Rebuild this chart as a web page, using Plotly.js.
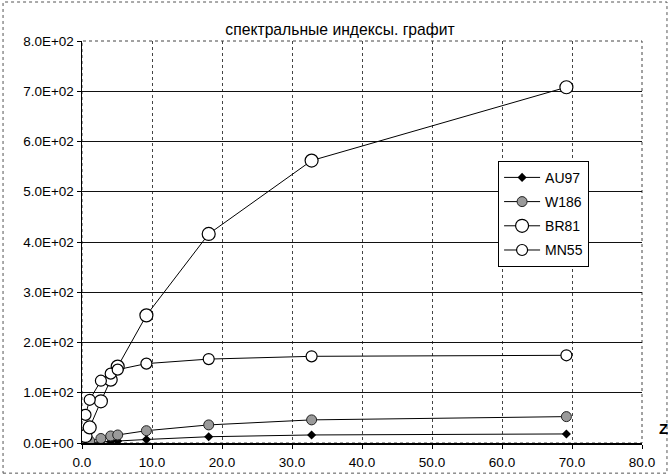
<!DOCTYPE html>
<html><head><meta charset="utf-8">
<script src="https://cdn.plot.ly/plotly-3.0.1.min.js"></script>
<style>html,body{margin:0;padding:0;background:#fff}#chart{width:668px;height:476px}</style>
</head><body><div id="chart"></div>
<script>
const zValues = [0.5, 1.1, 2.7, 4.1, 5.1, 9.2, 18.1, 32.8, 69.2];
const au97 = [0.5, 1, 2, 3, 4, 7, 12.5, 16, 18];
const w186 = [1.5, 4, 9, 14, 16, 24.5, 36, 46, 52.5];
const br81 = [14, 31, 83, 126, 152, 254, 416, 562, 708];
const mn55 = [56, 86, 124, 138, 146, 158, 167, 172.5, 174.5];
const yTickVals = [0, 100, 200, 300, 400, 500, 600, 700, 800];
const yTickText = ['0.0E+00','1.0E+02','2.0E+02','3.0E+02','4.0E+02','5.0E+02','6.0E+02','7.0E+02','8.0E+02'];
const titleText = 'спектральные индексы. графит';

const F = 'Arial, "Liberation Sans", sans-serif';
const traces = [
  {x: zValues, y: au97, name: 'AU97', legendgroup: 'a', mode: 'lines+markers',
   line: {color: '#000', width: 1},
   marker: {symbol: 'diamond', size: 7, color: '#000'}},
  {x: zValues, y: w186, name: 'W186', legendgroup: 'b', mode: 'lines+markers',
   line: {color: '#000', width: 1},
   marker: {symbol: 'circle', size: 10, color: '#9a9a9a', line: {color: '#222', width: 1}}},
  {x: zValues, y: br81, name: 'BR81', legendgroup: 'c', mode: 'lines+markers',
   line: {color: '#000', width: 1},
   marker: {symbol: 'circle', size: 13, color: '#fff', line: {color: '#000', width: 1.2}}},
  {x: zValues, y: mn55, name: 'MN55', legendgroup: 'd', mode: 'lines+markers',
   line: {color: '#000', width: 1},
   marker: {symbol: 'circle', size: 11, color: '#fff', line: {color: '#000', width: 1.2}}}
];

const layout = {
  width: 668, height: 476,
  margin: {l: 82, r: 26, t: 41, b: 33},
  paper_bgcolor: '#fff', plot_bgcolor: '#fff',
  font: {family: F, size: 13, color: '#000'},
  title: {text: titleText, font: {family: F, size: 15.7, color: '#000'},
          xref: 'container', x: 0.509, xanchor: 'center',
          yref: 'container', y: 0.938, yanchor: 'middle'},
  showlegend: true,
  legend: {x: 0.743, y: 0.702, xanchor: 'left', yanchor: 'top',
           bgcolor: '#fff', bordercolor: '#000', borderwidth: 1,
           tracegroupgap: 3, itemwidth: 36,
           font: {family: F, size: 14, color: '#000'}},
  xaxis: {range: [0, 80], dtick: 10, tick0: 0, tickformat: '.1f',
          showline: true, linecolor: '#000', linewidth: 1.5,
          ticks: 'outside', ticklen: 4, tickcolor: '#000',
          ticklabelstandoff: 2,
          showgrid: true, gridcolor: '#444', griddash: 'dot', gridwidth: 1,
          zeroline: false, tickfont: {family: F, size: 13.5, color: '#000'}},
  yaxis: {range: [0, 800], tickvals: yTickVals, ticktext: yTickText,
          showline: true, linecolor: '#000', linewidth: 1.5,
          ticks: 'outside', ticklen: 4, tickcolor: '#000',
          showgrid: true, gridcolor: '#111', gridwidth: 1,
          zeroline: false, tickfont: {family: F, size: 13.5, color: '#000'}},
  shapes: [
    {type: 'rect', xref: 'paper', yref: 'paper', x0: 0, x1: 1, y0: 0, y1: 1,
     line: {color: '#444', width: 1, dash: 'dot'}, layer: 'below'},
    {type: 'rect', xref: 'paper', yref: 'paper', x0: -0.141, x1: 1.0446, y0: -0.075, y1: 1.097,
     line: {color: '#555', width: 1, dash: 'dot'}}
  ],
  annotations: [
    {text: '<b>Z</b>', xref: 'paper', yref: 'paper', x: 1.0375, y: 0.037,
     xanchor: 'center', yanchor: 'middle',
     showarrow: false, font: {family: F, size: 15, color: '#000'}}
  ]
};
Plotly.newPlot('chart', traces, layout, {displayModeBar: false, staticPlot: true});
</script></body></html>
